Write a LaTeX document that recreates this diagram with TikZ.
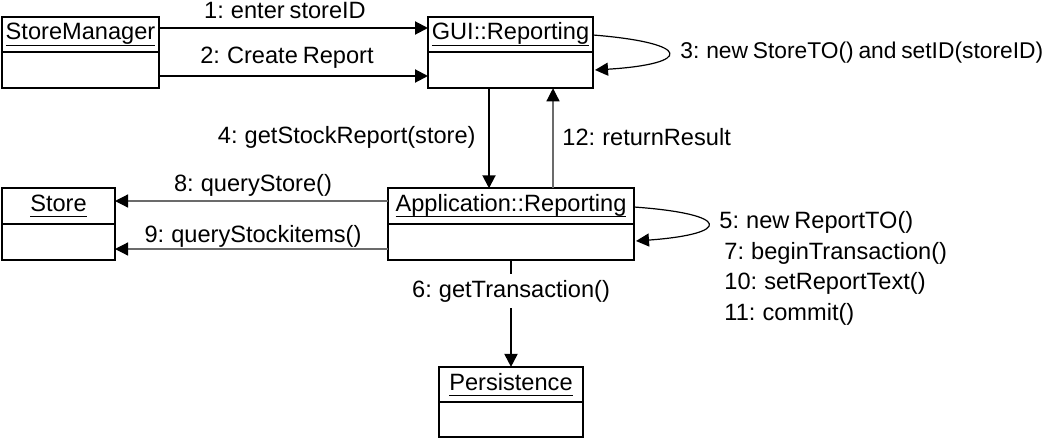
\documentclass[tikz,border=0pt]{standalone}
\usepackage{fontspec}
\setmainfont[WordSpace=0.75]{Liberation Sans}
\usetikzlibrary{arrows.meta,calc,positioning}
\definecolor{RetClr}{rgb}{0.42,0.42,0.42}
\newcommand{\objname}[1]{\underline{\smash{#1}\rule[-1.3pt]{0pt}{0pt}}}

\begin{document}
\begin{tikzpicture}[x=0.5pt,y=-0.5pt,
  font=\fontsize{11.8}{14}\selectfont,
  objhead/.style={draw,line width=1pt,inner sep=1pt,outer sep=0pt,text height=10.6pt,text depth=5.15pt},
  objbody/.style={draw,line width=1pt,inner sep=0pt,outer sep=0pt,minimum height=18pt},
  msg/.style={line width=1pt,-{Triangle[length=6.5pt,width=6.5pt]}},
  ret/.style={line width=0.6pt,draw=RetClr,-{Triangle[length=6.5pt,width=6.5pt,color=black]}},
  selfmsg/.style={line width=0.6pt,-{Triangle[length=6.5pt,width=6.5pt]}},
  lbl/.style={inner sep=1pt}]
\useasboundingbox (0,0) rectangle (1052,439);

% objects
\node[objhead,minimum width=78.5pt] (sm) at (80.5,34.5) {\objname{StoreManager}};
\node[objbody,minimum width=78.5pt,below=0pt of sm] (smb) {};
\node[objhead,minimum width=82.5pt] (gui) at (510.5,34.5) {\objname{GUI::Reporting}};
\node[objbody,minimum width=82.5pt,below=0pt of gui] (guib) {};
\node[objhead,minimum width=56.5pt] (store) at (58.5,206) {\objname{Store}};
\node[objbody,minimum width=56.5pt,below=0pt of store] (storeb) {};
\node[objhead,minimum width=123pt] (app) at (511,206) {\objname{Application::Reporting}};
\node[objbody,minimum width=123pt,below=0pt of app] (appb) {};
\node[objhead,minimum width=72pt,text depth=5pt] (pers) at (511,384.5) {\objname{Persistence}};
\node[objbody,minimum width=72pt,minimum height=17.5pt,below=0pt of pers] (persb) {};

% messages
\draw[msg] (sm.east |- 0,28) -- (gui.west |- 0,28);
\node[lbl] (m1) at (285,10) {1: enter storeID};
\draw[msg] (smb.east |- 0,76) -- (guib.west |- 0,76);
\node[lbl] (m2) at (287,58) {2: Create Report};

\draw[selfmsg] (gui.east |- 0,35) .. controls (693,43) and (693,64) .. ($(guib.east |- 0,70)+(2,0)$);
\node[lbl,anchor=west,font=\fontsize{11.4}{14}\selectfont] (m3) at (678,53) {3: new StoreTO() and setID(storeID)};

\draw[msg] (guib.south -| 489,0) -- (app.north -| 489,0);
\node[lbl,anchor=east] (m4) at (478,137) {4: getStockReport(store)};
\draw[ret] (app.north -| 553,0) -- (guib.south -| 553,0);
\node[lbl,anchor=west] (m12) at (560,137) {12: returnResult};

\draw[ret] (app.west |- 0,201) -- (store.east |- 0,201);
\node[lbl] (m8) at (253,185) {8: queryStore()};
\draw[ret] (appb.west |- 0,249) -- (storeb.east |- 0,249);
\node[lbl] (m9) at (253,236) {9: queryStockitems()};

\draw[selfmsg] (app.east |- 0,207) .. controls (732,214) and (732,234) .. ($(appb.east |- 0,241)+(2,0)$);
\node[lbl,anchor=west] (m5) at (717,222) {5: new ReportTO()};
\node[lbl,anchor=west] (m7) at (722,253) {7: beginTransaction()};
\node[lbl,anchor=west] (m10) at (722,283) {10: setReportText()};
\node[lbl,anchor=west] (m11) at (722,314) {11: commit()};

\draw[msg] (appb.south -| 511,0) -- (pers.north);
\node[lbl,fill=white,inner sep=3pt] (m6) at (511,291) {6: getTransaction()};

\end{tikzpicture}
\end{document}
